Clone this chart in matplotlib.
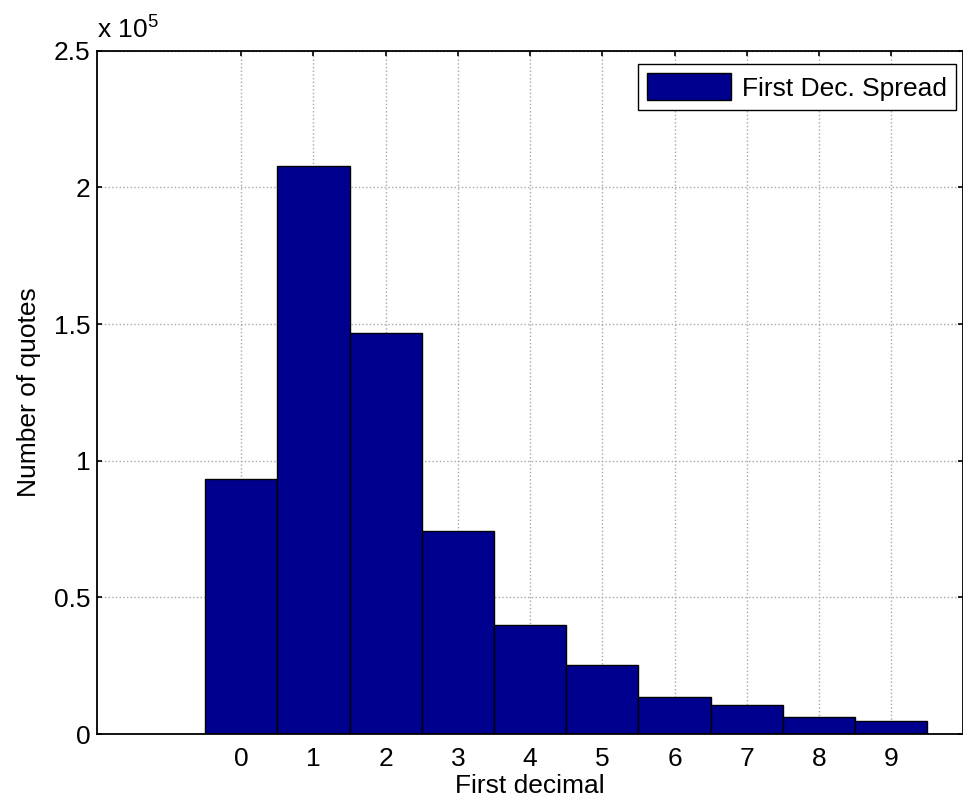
import matplotlib
matplotlib.use("Agg")
import matplotlib.pyplot as plt
from matplotlib.ticker import FuncFormatter

# Conteo de cotizaciones por primer decimal del spread
digits = [0, 1, 2, 3, 4, 5, 6, 7, 8, 9]
quotes = [93300, 207700, 146900, 74300, 39900, 25400, 13700, 10700, 6300, 4900]
y_ticks = [0, 50000, 100000, 150000, 200000, 250000]

plt.rcParams['font.family'] = ['Liberation Sans', 'DejaVu Sans']
plt.rcParams['mathtext.default'] = 'regular'

fig = plt.figure(figsize=(9.63, 8.10), dpi=100)
ax = fig.add_axes([0.1004, 0.0938, 0.9001, 0.8436])

ax.bar(digits, quotes, width=1.0, color='#00008f', edgecolor='black',
       linewidth=1.0, label='First Dec. Spread', zorder=2)

ax.set_xlim(-2, 10)
ax.set_ylim(0, 250000)
ax.set_xticks(digits)
ax.set_yticks(y_ticks)
ax.yaxis.set_major_formatter(FuncFormatter(lambda v, p: f"{v / 1e5:g}"))

# rejilla punteada detras de las barras
ax.set_axisbelow(True)
ax.grid(True, linestyle=':', color='#a8a8a8', linewidth=1.0)

ax.tick_params(axis='both', direction='in', length=3.5, width=1.2,
               top=True, right=True, labelsize=19, colors='black')
ax.tick_params(axis='x', pad=9.5)
ax.tick_params(axis='y', pad=4.5)
for s in ax.spines.values():
    s.set_linewidth(1.3)
    s.set_color('black')

ax.set_xlabel('First decimal', fontsize=19, labelpad=2)
ax.set_ylabel('Number of quotes', fontsize=19, labelpad=9)

# factor de escala del eje y
ax.text(0.0, 1.017, 'x 10$^5$', transform=ax.transAxes, fontsize=19,
        ha='left', va='baseline')

leg = ax.legend(loc='upper right', bbox_to_anchor=(0.9914, 0.980),
                borderaxespad=0, fontsize=19, fancybox=False,
                edgecolor='black', framealpha=1.0, handlelength=3.2,
                handleheight=1.2, handletextpad=0.4, borderpad=0.34)
leg.get_frame().set_linewidth(1.0)

fig.savefig('out.png', dpi=100)
